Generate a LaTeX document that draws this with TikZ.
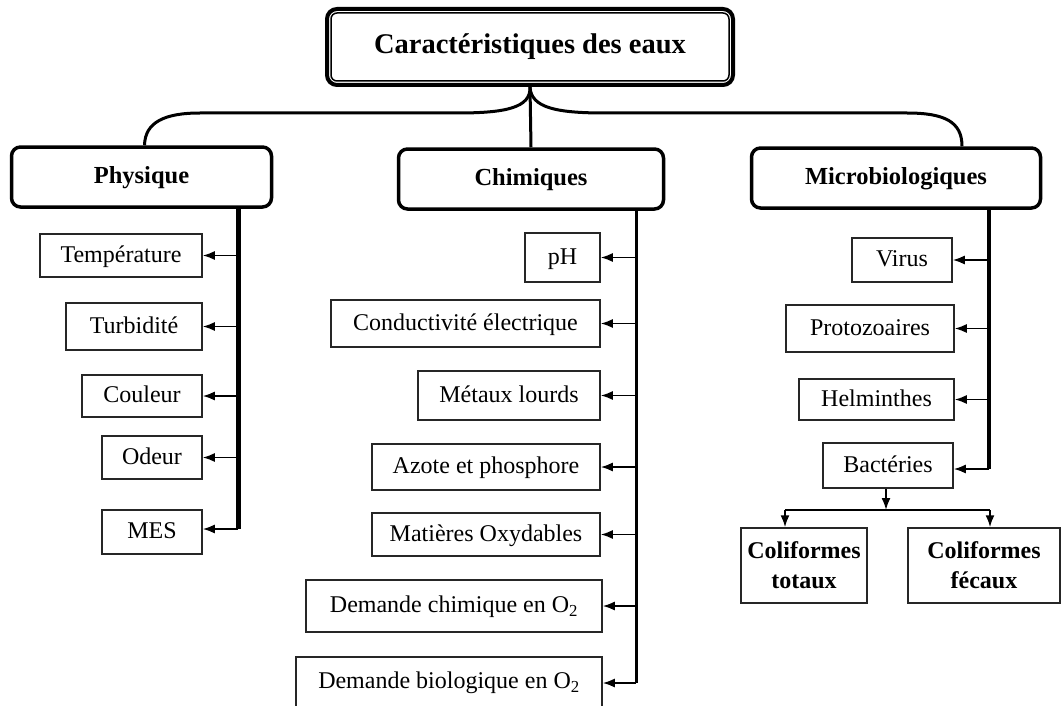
\documentclass[tikz,border=0pt]{standalone}
\usepackage{fontspec}
\setmainfont{Liberation Serif}
\usetikzlibrary{arrows.meta}

\begin{document}
\begin{tikzpicture}[x=1pt, y=-1pt,
		titlebox/.style={draw, line width=4pt, rounded corners=10pt, font=\fontsize{28.5}{32}\selectfont\bfseries, inner sep=0pt},
		catbox/.style={draw, line width=3.5pt, rounded corners=9pt, font=\fontsize{24.5}{28}\selectfont\bfseries, text height=17pt, text depth=4pt, inner sep=0pt},
		itembox/.style={draw=black!85, line width=1.5pt, font=\fontsize{24}{28}\selectfont, text height=17pt, text depth=4pt, inner sep=0pt},
		colibox/.style={draw=black!85, line width=1.5pt, font=\fontsize{24}{30}\selectfont\bfseries, align=center, inner sep=0pt},
		arr/.style={-{Latex[length=12pt, width=9pt]}, line width=1.8pt},
		bar/.style={line width=#1},
		bar/.default=4pt]
					\useasboundingbox (0,0) rectangle (1062,706);
					% title and the three families
					\node (T) at (530,47)    [titlebox, minimum width=406pt, minimum height=76pt] {Caractéristiques des eaux};
					\draw[line width=1.5pt, rounded corners=6pt] ([shift={(6,6)}]T.north west) rectangle ([shift={(-6,-6)}]T.south east);
					\node (P) at (141.5,177) [catbox, minimum width=260pt, minimum height=60pt] {Physique};
					\node (C) at (531,179)   [catbox, minimum width=265pt, minimum height=60pt] {Chimiques};
					\node (M) at (896,178)   [catbox, minimum width=289pt, minimum height=60pt] {Microbiologiques};
					% the brace under the title
					\draw[line width=3pt] ([xshift=3pt]P.north) .. controls (145,122) and (165,113) .. (200,113) -- (457,113)
						.. controls (505,113) and (531,108) .. (T.south)
						.. controls (531,108) and (557,113) .. (605,113) -- (907,113)
						.. controls (945,113) and (962,122) .. ([xshift=66pt]M.north);
					\draw[line width=3pt] (T.south) -- (C.north);
					% Physique
					\node (P1) at (121,255.5) [itembox, minimum width=162pt, minimum height=43pt] {Température};
					\node (P2) at (134,326.5) [itembox, minimum width=136pt, minimum height=47pt] {Turbidité};
					\node (P3) at (142,396)   [itembox, minimum width=120pt, minimum height=42pt] {Couleur};
					\node (P4) at (152,457.5) [itembox, minimum width=100pt, minimum height=43pt] {Odeur};
					\node (P5) at (152,532)   [itembox, minimum width=100pt, minimum height=44pt] {MES};
					\coordinate (Pb) at (238,529);
					\draw[bar=5pt] (P.south -| Pb) -- (Pb);
					\foreach \n in {P1,P2,P3,P4}
						\draw[arr] (\n.east -| Pb) -- (\n.east);
					\draw[arr] (Pb) -- (Pb -| P5.east);
					% Chimiques
					\node (C1) at (562.5,257.5) [itembox, minimum width=75pt,  minimum height=49pt] {pH};
					\node (C2) at (465.5,323.5) [itembox, minimum width=269pt, minimum height=47pt] {Conductivité électrique};
					\node (C3) at (509,395.5)   [itembox, minimum width=182pt, minimum height=49pt] {Métaux lourds};
					\node (C4) at (486,467)     [itembox, minimum width=228pt, minimum height=46pt] {Azote et phosphore};
					\node (C5) at (486,534.5)   [itembox, minimum width=228pt, minimum height=43pt] {Matières Oxydables};
					\node (C6) at (454,606)     [itembox, minimum width=296pt, minimum height=52pt] {Demande chimique en O\textsubscript{2}};
					\node (C7) at (449,682)     [itembox, minimum width=306pt, minimum height=50pt] {Demande biologique en O\textsubscript{2}};
					\coordinate (Cb) at (636,683);
					\draw[bar=3pt] (C.south -| Cb) -- (Cb);
					\foreach \n in {C1,C2,C3,C4,C5,C6}
						\draw[arr] (\n.east -| Cb) -- (\n.east);
					\draw[arr] (Cb) -- (Cb -| C7.east);
					% Microbiologiques
					\node (M1) at (902,260)   [itembox, minimum width=100pt, minimum height=44pt] {Virus};
					\node (M2) at (870,328.5) [itembox, minimum width=168pt, minimum height=47pt] {Protozoaires};
					\node (M3) at (876.5,399.5) [itembox, minimum width=155pt, minimum height=41pt] {Helminthes};
					\node (M4) at (888,465.5) [itembox, minimum width=130pt, minimum height=45pt] {Bactéries};
					\coordinate (Mb) at (989,469);
					\draw[bar=4pt] (M.south -| Mb) -- (Mb);
					\foreach \n in {M1,M2,M3}
						\draw[arr] (\n.east -| Mb) -- (\n.east);
					\draw[arr] (Mb) -- (Mb -| M4.east);
					% Bacteries and the two coliform groups
					\node (F1) at (804,565.5) [colibox, minimum width=126pt, minimum height=75pt] {Coliformes\\totaux};
					\node (F2) at (984,565.5) [colibox, minimum width=152pt, minimum height=75pt] {Coliformes\\fécaux};
					\coordinate (J) at (886,510);
					\coordinate (Jl) at (785,510);
					\coordinate (Jr) at (990,510);
					\draw[arr] (M4.south -| J) -- (J);
					\draw[line width=1.6pt] (Jl) -- (Jr);
					\draw[arr] (Jl) -- (F1.north -| Jl);
					\draw[arr] (Jr) -- (F2.north -| Jr);
			\end{tikzpicture}
\end{document}
